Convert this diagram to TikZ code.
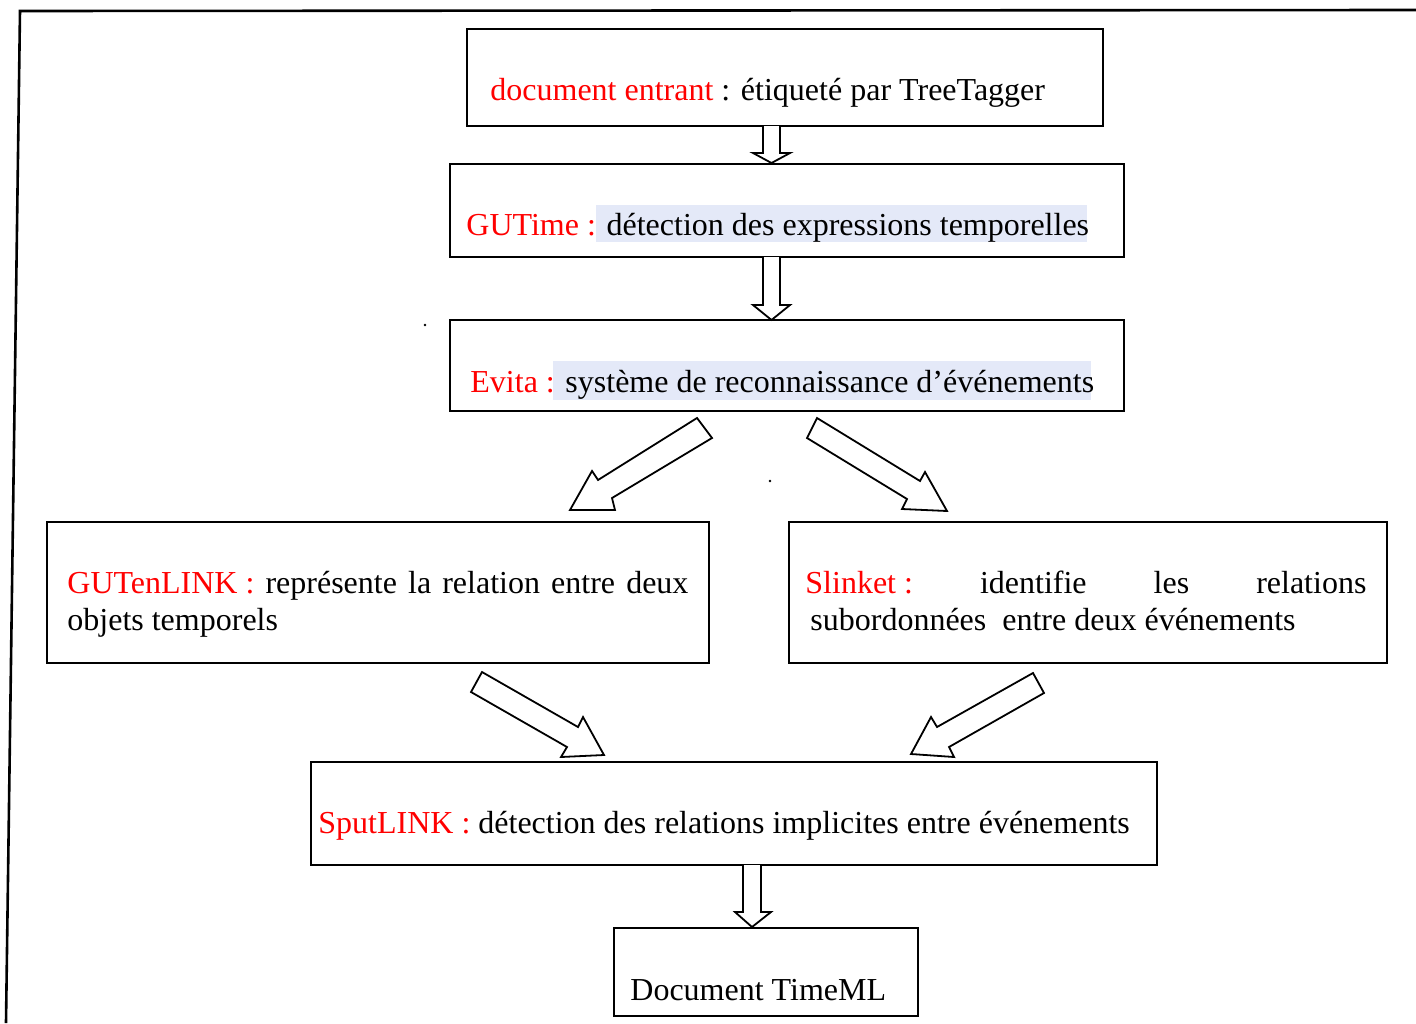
\documentclass[tikz,border=0pt]{standalone}
\usepackage{fontspec}
\setmainfont{Liberation Serif}
\definecolor{hl}{HTML}{E4E9F8}
\definecolor{lbl}{HTML}{FF0000}
\begin{document}
\begin{tikzpicture}[x=0.5pt,y=-0.5pt,
  box/.style={draw,line width=1pt,inner sep=0pt,outer sep=0pt,anchor=north west},
  txt/.style={inner sep=0pt,anchor=base west,font=\fontsize{16}{18.5}\selectfont},
  blk/.style={draw,line width=0.9pt,fill=white,line join=miter}]
\useasboundingbox (0,0) rectangle (1416,1023);

% outer frame
\draw[line width=1.3pt] (6,1023) -- (20,11) -- (1416,10);

% processing stages
\node[box,minimum width=318pt,minimum height=48.5pt] (b1) at (467,29) {};
\node[box,minimum width=337pt,minimum height=46.5pt] (b2) at (450,164) {};
\node[box,minimum width=337pt,minimum height=45.5pt] (b3) at (450,320) {};
\node[box,minimum width=331pt,minimum height=70.5pt] (b4) at (47,522) {};
\node[box,minimum width=299pt,minimum height=70.5pt] (b5) at (789,522) {};
\node[box,minimum width=423pt,minimum height=51.5pt] (b6) at (311,762) {};
\node[box,minimum width=152pt,minimum height=44pt] (b7) at (614,928) {};

% highlighted descriptions
\fill[hl] (596,205) rectangle (1087,242);
\fill[hl] (553,361) rectangle (1091,400);

% texts
\node[txt] (t1) at (490,100) {\textcolor{lbl}{document entrant} : étiqueté par TreeTagger};
\node[txt] (t2) at (466,235) {\textcolor{lbl}{GUTime :} détection des expressions temporelles};
\node[txt] (t3) at (470,392) {\textcolor{lbl}{Evita :} système de reconnaissance d’événements};
\node[txt] (t4a) at (67,593) {\makebox[310.5pt][s]{\mbox{\textcolor{lbl}{GUTenLINK :}} représente la relation entre deux}};
\node[txt] (t4b) at (67,630) {objets temporels};
\node[txt] (t5a) at (805,593) {\makebox[280.5pt][s]{\mbox{\textcolor{lbl}{Slinket :}} identifie les relations}};
\node[txt] (t5b) at (810,630) {subordonnées\ \ entre deux événements};
\node[txt] (t6) at (318,833) {\textcolor{lbl}{SputLINK :} détection des relations implicites entre événements};
\node[txt] (t7) at (630,1000) {Document TimeML};

% stray dots
\fill (425,325) circle[radius=1.3];
\fill (770,481) circle[radius=1.3];

% vertical block arrows
\draw[blk] (763,126) -- (763,153) -- (753,153) -- (771.5,163) -- (790,153) -- (780,153) -- (780,126);
\draw[blk] (763,257) -- (763,305) -- (753,305) -- (771.5,320) -- (790,305) -- (780,305) -- (780,257);
\draw[blk] (743,865) -- (743,912) -- (735,912) -- (752,927) -- (771,912) -- (761,912) -- (761,865);

% diagonal block arrows
\draw[blk] (697,418) -- (712,438) -- (612,498) -- (615,510) -- (570,510) -- (592,471) -- (598,480) -- cycle;
\draw[blk] (817,418) -- (807,438) -- (907,499) -- (902,509) -- (947,511) -- (925,472) -- (920,481) -- cycle;
\draw[blk] (482,672) -- (471,692) -- (567,747) -- (561,757) -- (604,755) -- (583,717) -- (578,727) -- cycle;
\draw[blk] (1033,673) -- (1044,693) -- (949,747) -- (954,757) -- (911,754) -- (931,717) -- (937,727) -- cycle;
\end{tikzpicture}
\end{document}
